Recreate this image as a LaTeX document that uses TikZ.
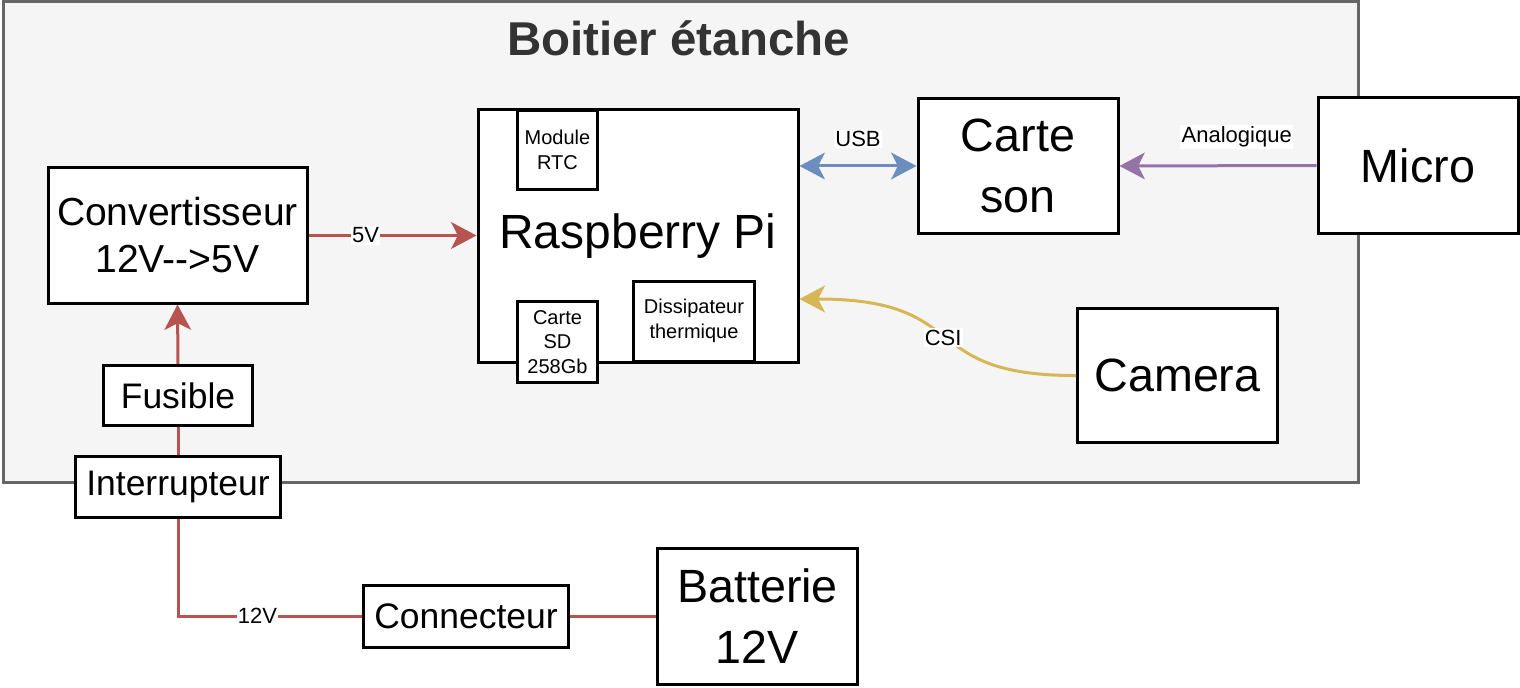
\documentclass[tikz,border=0pt]{standalone}
\usepackage{fontspec}
\setmainfont{Liberation Sans}
\usetikzlibrary{arrows.meta}
\definecolor{fondgris}{HTML}{F5F5F5}
\definecolor{bordgris}{HTML}{666666}
\definecolor{titregris}{HTML}{333333}
\definecolor{filrouge}{HTML}{B85450}
\definecolor{filbleu}{HTML}{6C8EBF}
\definecolor{filviolet}{HTML}{9673A6}
\definecolor{filjaune}{HTML}{D6B656}

\begin{document}
\begin{tikzpicture}[x=0.75pt,y=-0.75pt,
  >={Stealth[length=19pt,width=20pt,inset=5pt]},
  bloc/.style n args={2}{draw,line width=2.25pt,fill=white,inner sep=0pt,align=center,
    minimum width=#1*0.75pt,minimum height=#2*0.75pt},
  txtgrand/.style={font=\fontsize{35}{45.4}\selectfont},
  txtmoyen/.style={font=\fontsize{26.6}{32}\selectfont},
  txtpetit/.style={font=\fontsize{15}{18.4}\selectfont},
  fil/.style={line width=2.25pt},
  etiq/.style={fill=white,text=black,inner sep=1pt,font=\fontsize{16.5}{19}\selectfont}]
  \useasboundingbox (0,0) rectangle (1520,688);
  \node[draw=bordgris,line width=2.25pt,fill=fondgris,inner sep=0pt,
        minimum width=1355*0.75pt,minimum height=480*0.75pt] (boitier) at (680.5,242) {};
  \node[text=titregris,font=\bfseries\fontsize{35.6}{42}\selectfont] (titre) at (678.5,38) {Boitier étanche};

  \node[bloc={320}{252},font=\fontsize{36}{43}\selectfont] (rpi) at (638,236) {Raspberry Pi};
  \node[bloc={80}{79},txtpetit]  (rtc)  at (557.5,150) {Module\\RTC};
  \node[bloc={80}{81},txtpetit]  (sd)   at (557.5,342) {Carte\\SD\\258Gb};
  \node[bloc={121}{80},txtpetit] (diss) at (694,321)   {Dissipateur\\thermique};

  \node[bloc={259}{135},font=\fontsize{29.3}{35.25}\selectfont] (conv) at (177.5,235.5) {Convertisseur\\12V-{}-{}>5V};
  \node[bloc={149}{60},txtmoyen]  (fus)   at (178,395.5) {Fusible};
  \node[bloc={205}{61},txtmoyen]  (inter) at (178,487)   {Interrupteur};
  \node[bloc={205}{62},txtmoyen]  (con)   at (466,616)   {Connecteur};
  \node[bloc={200}{136},txtgrand] (bat)   at (757.5,616) {Batterie\\12V};

  \node[bloc={200}{135},txtgrand] (son)   at (1018,166)    {Carte\\son};
  \node[bloc={200}{135},txtgrand] (micro) at (1418,165.5)  {Micro};
  \node[bloc={200}{134},txtgrand] (cam)   at (1177.5,375.5) {Camera};

  \coordinate (csi) at (rpi.east |- 0,299);

  \draw[fil,filrouge,->] (conv.east) -- (rpi.west |- conv.east) node[etiq,pos=0.34] (l5v) {5V};
  \draw[fil,filbleu,<->] (rpi.east |- son.west) -- (son.west) node[etiq,midway,yshift=20pt] (lusb) {USB};
  \draw[fil,filviolet,->] (micro.west) -- (son.east) node[etiq,pos=0.405,yshift=21.5pt] (lana) {Analogique};
  \draw[fil,filjaune,->] (cam.west) .. controls (915,376) and (975,299) .. (csi) node[etiq,pos=0.5] (lcsi) {CSI};
  \draw[fil,filrouge,->] (fus.north) -- (conv.south);
  \draw[fil,filrouge] (inter.north) -- (fus.south);
  \draw[fil,filrouge] (inter.south) |- (con.west) node[etiq,pos=0.716] (l12v) {12V};
  \draw[fil,filrouge] (con.east) -- (bat.west);
\end{tikzpicture}
\end{document}
